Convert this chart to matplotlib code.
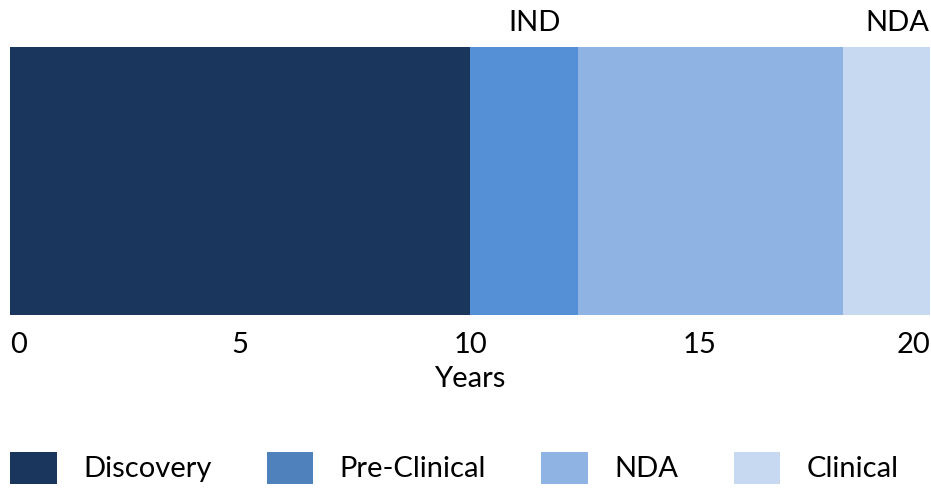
import matplotlib.pyplot as plt
from matplotlib.patches import Patch

# Drug development timeline (years)
phases = ["Discovery", "Pre-Clinical", "NDA", "Clinical"]
durations = [10.0, 2.35, 5.75, 1.9]
colors = ["#1a365d", "#558fd6", "#8fb4e3", "#c6d9f0"]
legend_colors = ["#1a365d", "#4f81bd", "#8fb4e3", "#c6d9f0"]

milestones = ["IND", "NDA"]
milestone_x = [11.4, 19.3]

ticks = [0, 5, 10, 15, 20]

plt.rcParams['font.family'] = ['Lato', 'DejaVu Sans']
FS = 21

fig = plt.figure(figsize=(9.31, 4.96), dpi=100)
ax = fig.add_axes([10 / 931, 1 - 315 / 496, 920 / 931, 268 / 496])

left = 0
for phase, d, c in zip(phases, durations, colors):
    ax.barh(0, d, left=left, height=1.0, color=c, edgecolor='none')
    left += d

ax.set_xlim(0, sum(durations))
ax.set_ylim(-0.5, 0.5)
ax.set_yticks([])
for s in ax.spines.values():
    s.set_visible(False)

ax.set_xticks(ticks)
ax.set_xticklabels([str(t) for t in ticks], fontsize=FS)
ax.tick_params(axis='x', length=0, pad=12)
lbls = ax.get_xticklabels()
lbls[0].set_ha('left')
lbls[-1].set_ha('right')
ax.set_xlabel("Years", fontsize=FS, labelpad=6)

for name, x in zip(milestones, milestone_x):
    ax.annotate(name, (x, 0.5), xytext=(0, 8), textcoords='offset points',
                ha='center', va='bottom', fontsize=FS)

handles = [Patch(facecolor=c, edgecolor='none') for c in legend_colors]
fig.legend(handles, phases, loc='lower left', bbox_to_anchor=(10 / 931, 0.025),
           ncol=4, frameon=False, fontsize=FS, handlelength=1.6,
           handleheight=1.3, handletextpad=0.9, columnspacing=1.9,
           borderpad=0, borderaxespad=0)

fig.savefig("out.png", dpi=100)
